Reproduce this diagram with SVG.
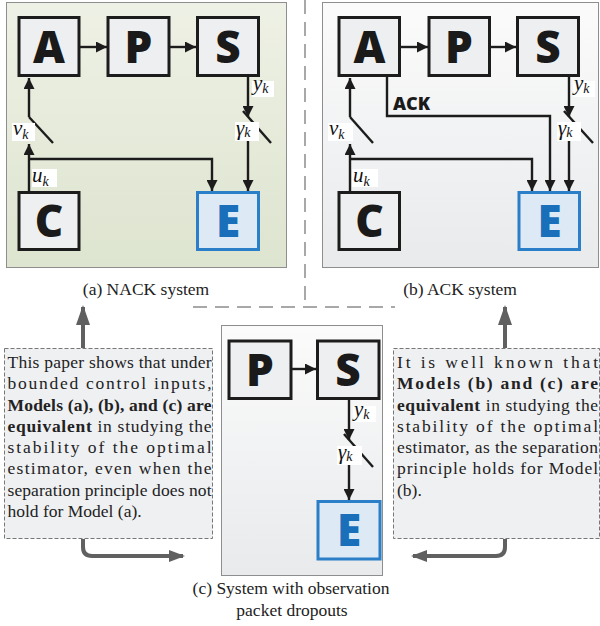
<svg xmlns="http://www.w3.org/2000/svg" width="600" height="626" viewBox="0 0 600 626">
<style>
.bx{fill:#eeeff1;stroke:#1c1c1c;stroke-width:3}
.be{fill:#dde9f4;stroke:#2a7fc8;stroke-width:3}
.lt{font-family:"Open Sans","Liberation Sans",sans-serif;font-weight:800;font-size:44px;fill:#1a1a1a;text-anchor:middle}
.le{fill:#1a6fba}
.w{fill:none;stroke:#1c1c1c;stroke-width:2.4}
.wa{fill:none;stroke:#1c1c1c;stroke-width:2.4;marker-end:url(#ah)}
.m{font-family:"Liberation Serif","Times New Roman",serif;font-style:italic;font-size:21px;fill:#111}
.sb{font-size:14px}
.lb{fill:#fff}
.cap{font-family:"Liberation Serif","Times New Roman",serif;font-size:17.5px;fill:#222;text-anchor:middle}
.tx{font-family:"Liberation Serif","Times New Roman",serif;font-size:17.5px;fill:#222}
.b{font-weight:700}
.tb{fill:#eff0f2;stroke:#777;stroke-width:1;stroke-dasharray:4 2}
.ga{fill:none;stroke:#606060;stroke-width:4}
.sep{fill:none;stroke:#a8a8a8;stroke-width:2;stroke-dasharray:14 8}
.ack{font-family:"Open Sans","Liberation Sans",sans-serif;font-weight:800;font-size:18px;fill:#1a1a1a}
</style>
<defs>
<marker id="ah" markerUnits="userSpaceOnUse" markerWidth="11" markerHeight="11" refX="11" refY="5.5" orient="auto">
<path d="M0,0 L11,5.5 L0,11 z" fill="#1c1c1c"/>
</marker>
<marker id="gu" markerUnits="userSpaceOnUse" markerWidth="20" markerHeight="14" refX="18" refY="7" orient="auto">
<path d="M0,0 L20,7 L0,14 z" fill="#606060"/>
</marker>
<marker id="gh" markerUnits="userSpaceOnUse" markerWidth="16" markerHeight="12" refX="14" refY="6" orient="auto">
<path d="M0,0 L16,6 L0,12 z" fill="#606060"/>
</marker>
<linearGradient id="gA" x1="0" y1="0" x2="0" y2="1">
<stop offset="0" stop-color="#eef1e5"/>
<stop offset="1" stop-color="#dde4cf"/>
</linearGradient>
<linearGradient id="gB" x1="0" y1="0" x2="0" y2="1">
<stop offset="0" stop-color="#fbfbfb"/>
<stop offset="1" stop-color="#e8eaec"/>
</linearGradient>
</defs>

<!-- separators -->
<g id="separator">
<path class="sep" d="M305,0 V307"/>
<path class="sep" d="M193,307 H395"/>
</g>

<!-- panel a -->
<g id="panelA">
<rect x="6.5" y="2.5" width="280" height="265" fill="url(#gA)" stroke="#8e8e8e" stroke-width="1"/>
</g>
<g id="a-connectors">
<path class="wa" d="M80,47 H107"/>
<path class="wa" d="M170,47 H196"/>
<path class="wa" d="M29,191 V144"/>
<path class="wa" d="M29,117 V78"/>
<path class="w" d="M29,117 L53,143"/>
<path class="wa" d="M29,159 H212 V191"/>
<path class="wa" d="M248,77 V117"/>
<path class="w" d="M243,111 L271,143"/>
<path class="wa" d="M248,141 V191"/>
</g>
<g id="a-A"><rect class="bx" x="19" y="17.5" width="60" height="58"/><text class="lt" x="49" y="62.5">A</text></g>
<g id="a-P"><rect class="bx" x="108" y="17.5" width="61" height="58"/><text class="lt" x="138.5" y="62.5">P</text></g>
<g id="a-S"><rect class="bx" x="197.5" y="17.5" width="61" height="58"/><text class="lt" x="228" y="62.5">S</text></g>
<g id="a-C"><rect class="bx" x="19" y="192.5" width="60" height="57"/><text class="lt" x="49" y="237">C</text></g>
<g id="a-E"><rect class="be" x="197.5" y="192.5" width="61" height="57"/><text class="lt le" x="228" y="237">E</text></g>
<g id="a-labels">
<rect class="lb" x="252" y="81" width="22" height="16"/>
<text class="m" x="253" y="90">y<tspan class="sb" dy="3">k</tspan></text>
<rect class="lb" x="12" y="123" width="23" height="18"/>
<text class="m" x="13" y="135">ν<tspan class="sb" dy="4">k</tspan></text>
<rect class="lb" x="235" y="122" width="24" height="19"/>
<text class="m" x="236" y="135">γ<tspan class="sb" dy="2">k</tspan></text>
<rect class="lb" x="32" y="169" width="25" height="18"/>
<text class="m" x="32" y="182">u<tspan class="sb" dy="4">k</tspan></text>
</g>
<text class="cap" x="146" y="295">(a) NACK system</text>

<!-- panel b -->
<g id="panelB">
<rect x="322.5" y="2.5" width="276" height="265" fill="url(#gB)" stroke="#8e8e8e" stroke-width="1"/>
</g>
<g id="b-connectors">
<path class="wa" d="M401,47 H428"/>
<path class="wa" d="M491,47 H516"/>
<path class="wa" d="M350,191 V144"/>
<path class="wa" d="M350,117 V78"/>
<path class="w" d="M350,117 L373,143"/>
<path class="wa" d="M350,159 H532 V191"/>
<path class="wa" d="M387,77 V116 H550 V191"/>
<path class="wa" d="M569,77 V117"/>
<path class="w" d="M564,111 L593,143"/>
<path class="wa" d="M569,141 V191"/>
</g>
<g id="b-A"><rect class="bx" x="339" y="17.5" width="60.5" height="58"/><text class="lt" x="369.5" y="62.5">A</text></g>
<g id="b-P"><rect class="bx" x="429" y="17.5" width="60.5" height="58"/><text class="lt" x="459" y="62.5">P</text></g>
<g id="b-S"><rect class="bx" x="517.5" y="17.5" width="61" height="58"/><text class="lt" x="548" y="62.5">S</text></g>
<g id="b-C"><rect class="bx" x="339" y="192.5" width="60.5" height="57"/><text class="lt" x="369.5" y="237">C</text></g>
<g id="b-E"><rect class="be" x="519" y="192.5" width="60.5" height="57"/><text class="lt le" x="549.5" y="237">E</text></g>
<g id="b-labels">
<text class="ack" x="393" y="110">ACK</text>
<rect class="lb" x="573" y="81" width="22" height="16"/>
<text class="m" x="574" y="90">y<tspan class="sb" dy="3">k</tspan></text>
<rect class="lb" x="328" y="123" width="25" height="18"/>
<text class="m" x="329" y="135">ν<tspan class="sb" dy="4">k</tspan></text>
<rect class="lb" x="557" y="122" width="24" height="19"/>
<text class="m" x="558" y="135">γ<tspan class="sb" dy="2">k</tspan></text>
<rect class="lb" x="352" y="169" width="26" height="18"/>
<text class="m" x="353" y="182">u<tspan class="sb" dy="4">k</tspan></text>
</g>
<text class="cap" x="460" y="295">(b) ACK system</text>

<!-- panel c -->
<g id="panelC">
<rect x="221.5" y="325.5" width="161" height="250" fill="url(#gB)" stroke="#8e8e8e" stroke-width="1"/>
</g>
<g id="c-connectors">
<path class="wa" d="M292,369 H316"/>
<path class="wa" d="M349,400 V440"/>
<path class="w" d="M344,434 L373,467"/>
<path class="wa" d="M349,465 V500"/>
</g>
<g id="c-P"><rect class="bx" x="229" y="341" width="62" height="57.5"/><text class="lt" x="260" y="385.5">P</text></g>
<g id="c-S"><rect class="bx" x="317.5" y="341" width="61.5" height="57.5"/><text class="lt" x="348" y="385.5">S</text></g>
<g id="c-E"><rect class="be" x="318" y="501.5" width="62" height="57.5"/><text class="lt le" x="349" y="546">E</text></g>
<g id="c-labels">
<rect class="lb" x="353" y="406" width="23" height="16"/>
<text class="m" x="354" y="416">y<tspan class="sb" dy="3">k</tspan></text>
<rect class="lb" x="337" y="446" width="25" height="19"/>
<text class="m" x="338" y="459">γ<tspan class="sb" dy="2">k</tspan></text>
</g>
<text class="cap" x="291" y="594">(c) System with observation</text>
<text class="cap" x="292" y="616">packet dropouts</text>

<!-- left text box -->
<g id="noteLeft">
<rect class="tb" x="4.5" y="348.5" width="208" height="190"/>
<text class="tx" x="7.5" y="368" textLength="204" lengthAdjust="spacing">This paper shows that under</text>
<text class="tx" x="7.5" y="389.3" textLength="204" lengthAdjust="spacing">bounded control inputs,</text>
<text class="tx b" x="7.5" y="410.6" textLength="204" lengthAdjust="spacing">Models (a), (b), and (c) are</text>
<text class="tx" x="7.5" y="431.9" textLength="204" lengthAdjust="spacing"><tspan class="b">equivalent</tspan> in studying the</text>
<text class="tx" x="7.5" y="453.1" textLength="204" lengthAdjust="spacing">stability of the optimal</text>
<text class="tx" x="7.5" y="474.4" textLength="204" lengthAdjust="spacing">estimator, even when the</text>
<text class="tx" x="7.5" y="495.7" textLength="204" lengthAdjust="spacing">separation principle does not</text>
<text class="tx" x="7.5" y="517">hold for Model (a).</text>
</g>

<!-- right text box -->
<g id="noteRight">
<rect class="tb" x="393.5" y="348.5" width="206" height="190"/>
<text class="tx" x="397" y="368" textLength="201" lengthAdjust="spacing">It is well known that</text>
<text class="tx b" x="397" y="389.3" textLength="201" lengthAdjust="spacing">Models (b) and (c)  are</text>
<text class="tx" x="397" y="410.6" textLength="201" lengthAdjust="spacing"><tspan class="b">equivalent</tspan> in studying the</text>
<text class="tx" x="397" y="431.9" textLength="201" lengthAdjust="spacing">stability of the optimal</text>
<text class="tx" x="397" y="453.1" textLength="201" lengthAdjust="spacing">estimator, as the separation</text>
<text class="tx" x="397" y="474.4" textLength="201" lengthAdjust="spacing">principle holds for Model</text>
<text class="tx" x="397" y="495.7">(b).</text>
</g>

<!-- gray arrows -->
<g id="noteArrows">
<path class="ga" d="M83,348 V307" marker-end="url(#gu)"/>
<path class="ga" d="M83,539 V547 Q83,556 92,556 H183" marker-end="url(#gh)"/>
<path class="ga" d="M505,348 V307" marker-end="url(#gu)"/>
<path class="ga" d="M505,539 V547 Q505,556 496,556 H413" marker-end="url(#gh)"/>
</g>
</svg>
